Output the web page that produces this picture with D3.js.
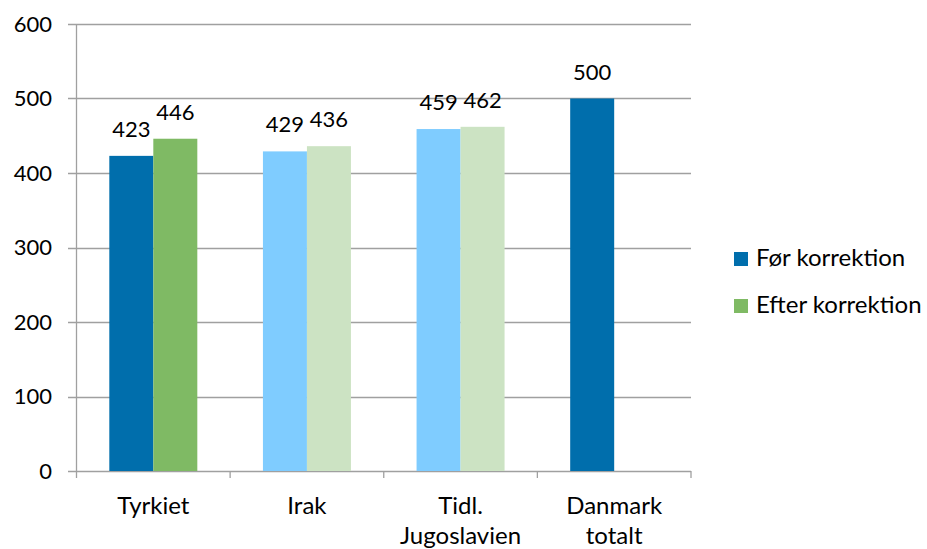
<!DOCTYPE html>
<html><head><meta charset="utf-8">
<script src="https://cdn.jsdelivr.net/npm/d3@7"></script>
<style>body{margin:0;background:#fff}svg{display:block;font-family:Lato,"Open Sans",sans-serif}</style>
</head><body><svg id="c" width="927" height="549"></svg>
<script>
const categories = [["Tyrkiet"], ["Irak"], ["Tidl.", "Jugoslavien"], ["Danmark", "totalt"]];
const seriesNames = ["Før korrektion", "Efter korrektion"];
const forValues = [423, 429, 459, 500];
const efterValues = [446, 436, 462, null];
const forColors = ["#006EAC", "#7FCCFF", "#7FCCFF", "#006EAC"];
const efterColors = ["#7FBA64", "#CCE3C3", "#CCE3C3", null];
const legendColors = ["#006EAC", "#7FBA64"];
const yTicks = [0, 100, 200, 300, 400, 500, 600];

const svg = d3.select("#c");
const m = {l: 76.5, r: 691, t: 24, b: 471};
const x = d3.scaleBand().domain(d3.range(categories.length)).range([m.l, m.r]);
const bw = 44;
const y = d3.scaleLinear().domain([0, 600]).range([m.b, m.t]);

// gridlines
svg.append("g").selectAll("line").data(yTicks).join("line")
  .attr("x1", 68).attr("x2", m.r).attr("y1", d => Math.round(y(d)) + 0.5).attr("y2", d => Math.round(y(d)) + 0.5)
  .attr("stroke", "#A0A0A0").attr("stroke-width", 1.3);
// y axis line
svg.append("line").attr("x1", m.l).attr("x2", m.l).attr("y1", m.t).attr("y2", m.b)
  .attr("stroke", "#A0A0A0").attr("stroke-width", 1.3);
// x ticks
const bounds = d3.range(categories.length + 1).map(i => i < categories.length ? x(i) : m.r);
svg.append("g").selectAll("line").data(bounds).join("line")
  .attr("x1", d => d).attr("x2", d => d).attr("y1", m.b).attr("y2", m.b + 7)
  .attr("stroke", "#A0A0A0").attr("stroke-width", 1.3);

// y labels
svg.append("g").selectAll("text").data(yTicks).join("text")
  .attr("x", 52).attr("y", d => y(d)).attr("dy", "0.36em").attr("text-anchor", "end")
  .attr("font-size", 22).attr("fill", "#000").text(d => d);

const bars = [];
categories.forEach((c, i) => {
  const cx = x(i) + x.bandwidth() / 2;
  if (forValues[i] != null) bars.push({v: forValues[i], x0: cx - bw, col: forColors[i]});
  if (efterValues[i] != null) bars.push({v: efterValues[i], x0: cx, col: efterColors[i]});
});
svg.append("g").selectAll("rect").data(bars).join("rect")
  .attr("x", d => d.x0).attr("width", bw).attr("y", d => y(d.v)).attr("height", d => y(0) - y(d.v))
  .attr("fill", d => d.col);
svg.append("g").selectAll("text").data(bars).join("text")
  .attr("x", d => d.x0 + bw / 2).attr("y", d => y(d.v) - 19).attr("text-anchor", "middle")
  .attr("font-size", 22).attr("fill", "#000").text(d => d.v);

// category labels
const cl = svg.append("g").selectAll("text").data(categories).join("text")
  .attr("text-anchor", "middle").attr("font-size", 24).attr("fill", "#000");
cl.each(function(lines, i) {
  const t = d3.select(this);
  lines.forEach((ln, j) => t.append("tspan").attr("x", x(i) + x.bandwidth() / 2).attr("y", 514 + j * 30).text(ln));
});

// legend
const lg = svg.append("g").selectAll("g").data(seriesNames).join("g")
  .attr("transform", (d, i) => `translate(734,${252 + i * 47})`);
lg.append("rect").attr("width", 14).attr("height", 14).attr("fill", (d, i) => legendColors[i]);
lg.append("text").attr("x", 22).attr("y", 14).attr("font-size", 24).attr("fill", "#000").text(d => d);
</script></body></html>
